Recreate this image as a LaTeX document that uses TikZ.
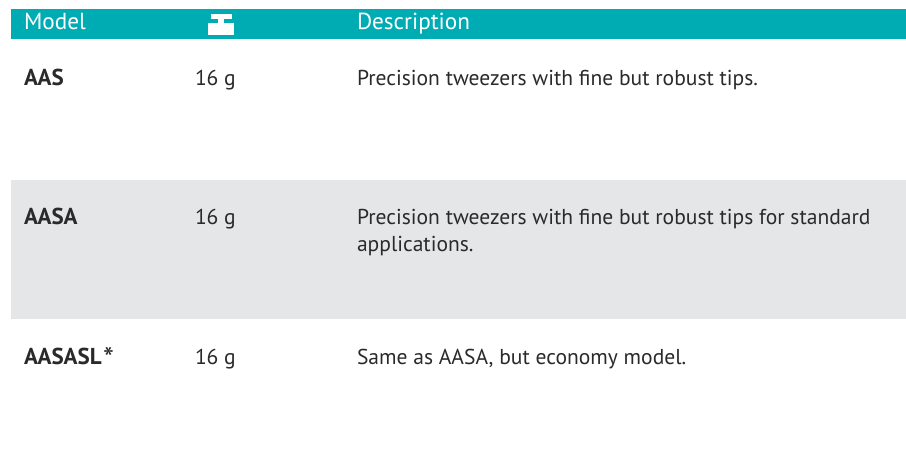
\documentclass[tikz,border=0pt]{standalone}
\usepackage{fontspec}
\setmainfont{PT Sans}
\definecolor{teal}{HTML}{00ACB4}
\definecolor{band}{HTML}{E5E6E8}
\definecolor{ink}{HTML}{2A2A2A}
\tikzset{x=1pt,y=-1pt,
  txt/.style={anchor=base west,inner sep=0pt,outer sep=0pt,text=ink,font=\fontsize{21.55}{21.55}\selectfont},
  bold/.style={txt,font=\fontsize{23}{23}\selectfont\bfseries},
  head/.style={txt,text=white,font=\fontsize{23.2}{23.2}\selectfont}}
\begin{document}
\begin{tikzpicture}
\useasboundingbox (0,0) rectangle (906,457);
\fill[white] (0,0) rectangle (906,457);
\fill[teal] (11,9) rectangle (906,39);
\fill[band] (11,180) rectangle (906,319);
\node[head] (hm) at (24,29.5) {Model};
\node[head] (hd) at (357,29.5) {Description};
\fill[white] (211,14) rectangle (232,19);
\fill[white] (218,19) rectangle (224,23);
\fill[white] (208,23) rectangle (234,35);
\node[bold] (m1) at (24,86) {AAS};
\node[txt] (w1) at (195,86) {16 g};
\node[txt] (d1) at (357,86) {Precision tweezers with fine but robust tips.};
\node[bold] (m2) at (24,225) {AASA};
\node[txt] (w2) at (195,225) {16 g};
\node[txt] (d2) at (357,225) {Precision tweezers with fine but robust tips for standard};
\node[txt] (d2b) at (357,252) {applications.};
\node[bold] (m3) at (24,365) {AASASL\kern1.5pt\raisebox{-4.5pt}{\fontsize{31}{31}\selectfont\mdseries *}};
\node[txt] (w3) at (195,365) {16 g};
\node[txt] (d3) at (357,365) {Same as AASA, but economy model.};
\end{tikzpicture}
\end{document}
